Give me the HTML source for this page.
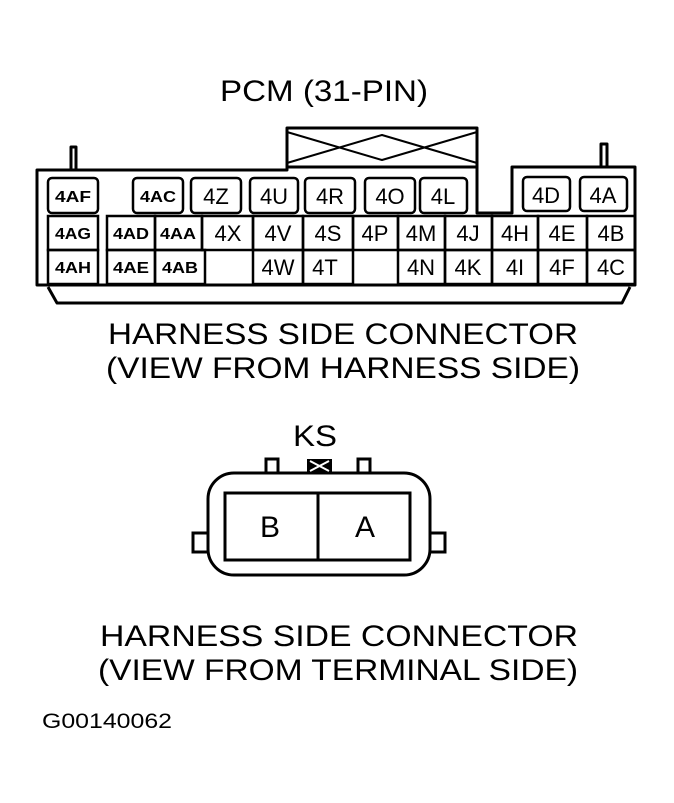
<!DOCTYPE html>
<html><head><style>
html,body{margin:0;padding:0;background:#fff;}
svg{display:block;}
text{font-family:"Liberation Sans",sans-serif;fill:#000;}
</style></head><body>
<svg width="674" height="803" viewBox="0 0 674 803" xmlns="http://www.w3.org/2000/svg">
<g fill="none" stroke="#000" stroke-width="3" stroke-linejoin="round">
<path d="M477,167 V213 H512 V167 H635 V285 H37 V170 H287 V167"/>
<path d="M48,287 L57,303 H622 L630,287"/>
<rect x="287" y="128" width="190" height="39"/>
<path d="M287,132 L382,160 L477,132 M287,163 L382,135 L477,163" stroke-width="2"/>
<path d="M71,170 V147 H76 V170"/>
<path d="M601,167 V144 H607 V167"/>
</g>
<g fill="none" stroke="#000" stroke-width="2.5">
<rect x="48" y="178" width="50" height="35" rx="4"/>
<rect x="133" y="178" width="50" height="35" rx="4"/>
<rect x="191" y="178" width="50" height="35" rx="4"/>
<rect x="250" y="178" width="48" height="35" rx="4"/>
<rect x="305" y="178" width="50" height="35" rx="4"/>
<rect x="365" y="178" width="50" height="35" rx="4"/>
<rect x="420" y="178" width="47" height="35" rx="4"/>
<rect x="523" y="177" width="47" height="34" rx="4"/>
<rect x="580" y="177" width="47" height="34" rx="4"/>
<rect x="48" y="216" width="50" height="34"/>
<rect x="107" y="216" width="48" height="34"/>
<rect x="155" y="216" width="47" height="34"/>
<rect x="202" y="216" width="51" height="34"/>
<rect x="253" y="216" width="50" height="34"/>
<rect x="303" y="216" width="50" height="34"/>
<rect x="353" y="216" width="45" height="34"/>
<rect x="398" y="216" width="47" height="34"/>
<rect x="445" y="216" width="47" height="34"/>
<rect x="492" y="216" width="46" height="34"/>
<rect x="538" y="216" width="49" height="34"/>
<rect x="587" y="216" width="48" height="34"/>
<rect x="48" y="250" width="50" height="34"/>
<rect x="107" y="250" width="48" height="34"/>
<rect x="155" y="250" width="50" height="34"/>
<rect x="253" y="250" width="50" height="34"/>
<rect x="303" y="250" width="50" height="34"/>
<rect x="398" y="250" width="47" height="34"/>
<rect x="445" y="250" width="47" height="34"/>
<rect x="492" y="250" width="46" height="34"/>
<rect x="538" y="250" width="49" height="34"/>
<rect x="587" y="250" width="48" height="34"/>
</g>
<g text-anchor="middle">
<g font-size="16" font-weight="bold">
<text x="73" y="202" textLength="36" lengthAdjust="spacingAndGlyphs">4AF</text><text x="158" y="202" textLength="36" lengthAdjust="spacingAndGlyphs">4AC</text>
<text x="73" y="239" textLength="36" lengthAdjust="spacingAndGlyphs">4AG</text><text x="131" y="239" textLength="36" lengthAdjust="spacingAndGlyphs">4AD</text><text x="178" y="239" textLength="36" lengthAdjust="spacingAndGlyphs">4AA</text>
<text x="73" y="273" textLength="36" lengthAdjust="spacingAndGlyphs">4AH</text><text x="131" y="273" textLength="36" lengthAdjust="spacingAndGlyphs">4AE</text><text x="180" y="273" textLength="36" lengthAdjust="spacingAndGlyphs">4AB</text>
</g>
<g font-size="22">
<text x="216" y="204">4Z</text><text x="274" y="204">4U</text><text x="330" y="204">4R</text>
<text x="390" y="204">4O</text><text x="443" y="204">4L</text><text x="546" y="203">4D</text><text x="603" y="203">4A</text>
<text x="228" y="241">4X</text><text x="278" y="241">4V</text><text x="328" y="241">4S</text><text x="375" y="241">4P</text>
<text x="421" y="241">4M</text><text x="468" y="241">4J</text><text x="515" y="241">4H</text><text x="562" y="241">4E</text><text x="611" y="241">4B</text>
<text x="278" y="275">4W</text><text x="325" y="275">4T</text><text x="421" y="275">4N</text><text x="468" y="275">4K</text>
<text x="515" y="275">4I</text><text x="562" y="275">4F</text><text x="611" y="275">4C</text>
</g>
<g font-size="30">
<text x="324" y="101" textLength="208" lengthAdjust="spacingAndGlyphs">PCM (31-PIN)</text>
<text x="343" y="344" textLength="470" lengthAdjust="spacingAndGlyphs">HARNESS SIDE CONNECTOR</text>
<text x="343" y="378" textLength="474" lengthAdjust="spacingAndGlyphs">(VIEW FROM HARNESS SIDE)</text>
<text x="315" y="446" textLength="44" lengthAdjust="spacingAndGlyphs">KS</text>
<text x="339" y="646" textLength="478" lengthAdjust="spacingAndGlyphs">HARNESS SIDE CONNECTOR</text>
<text x="338" y="680" textLength="480" lengthAdjust="spacingAndGlyphs">(VIEW FROM TERMINAL SIDE)</text>
<text x="270" y="537">B</text>
<text x="365" y="537">A</text>
</g>
</g>
<text x="42" y="728" font-size="21" textLength="130" lengthAdjust="spacingAndGlyphs">G00140062</text>
<g fill="none" stroke="#000" stroke-width="3">
<rect x="208" y="473" width="222" height="102" rx="26"/>
<path d="M208,533 H193 V552 H208 M430,533 H445 V552 H430"/>
<rect x="225" y="493" width="185" height="67"/>
<line x1="318" y1="493" x2="318" y2="560"/>
<path d="M266,473 V459 H278 V473 M358,473 V459 H370 V473"/>
</g>
<rect x="307" y="459" width="25" height="14" fill="#000"/>
<path d="M310,461 L329,471 M310,471 L329,461" stroke="#fff" stroke-width="2"/>
</svg>
</body></html>
